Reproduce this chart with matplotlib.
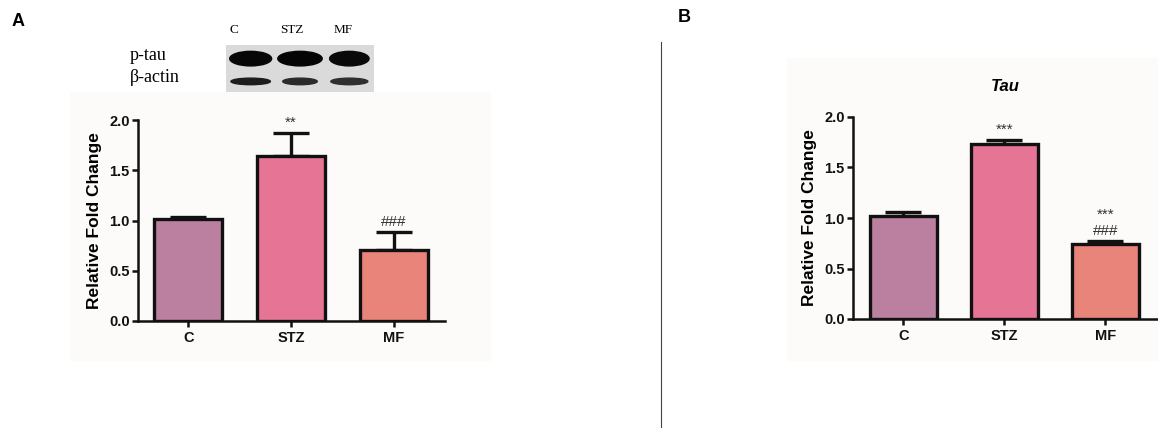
import numpy as np
import matplotlib.pyplot as plt
from matplotlib.patches import Rectangle, Ellipse

# data
groups = ["C", "STZ", "MF"]
colors = ["#bb7fa0", "#e67595", "#e9847a"]

a_mean = [1.01, 1.64, 0.71]
a_err = [0.02, 0.23, 0.18]
a_marks = ["", "**", "###"]

b_mean = [1.02, 1.73, 0.74]
b_err = [0.04, 0.04, 0.03]
b_marks = ["", "***", "***\n###"]

# blot band strength (0..1) and width per lane
ptau_band = [0.95, 1.0, 0.9]
ptau_width = [0.85, 0.9, 0.8]
actin_band = [0.9, 0.75, 0.7]
actin_width = [0.8, 0.7, 0.75]

plt.rcParams['font.family'] = ['Liberation Sans', 'DejaVu Sans']
plt.rcParams['font.weight'] = 'bold'

fig = plt.figure(figsize=(11.58, 4.28), dpi=100)


def bar_panel(ax, means, errs, marks, xlim):
    x = np.arange(len(groups))
    ax.bar(x, means, width=0.66, color=colors, edgecolor='#111111',
           linewidth=2.4, zorder=3)
    ax.errorbar(x, means, yerr=[np.zeros(len(errs)), errs], fmt='none',
                ecolor='#111111', elinewidth=2.4, capsize=13, capthick=2.4,
                zorder=2)
    for xi, m, e, s in zip(x, means, errs, marks):
        if s:
            ax.text(xi, m + e + 0.03, s, ha='center', va='bottom',
                    fontsize=11, fontweight='normal', color='#333333',
                    linespacing=1.25)
    ax.set_ylim(0, 2.0)
    ax.set_xlim(*xlim)
    ax.set_yticks([0.0, 0.5, 1.0, 1.5, 2.0])
    ax.set_yticklabels(["0.0", "0.5", "1.0", "1.5", "2.0"])
    ax.set_xticks(x)
    ax.set_xticklabels(groups)
    for sp in ['top', 'right']:
        ax.spines[sp].set_visible(False)
    for sp in ['left', 'bottom']:
        ax.spines[sp].set_linewidth(1.8)
        ax.spines[sp].set_color('#111111')
    ax.tick_params(axis='both', width=1.8, length=4, labelsize=10.5,
                   colors='#111111', pad=2)
    ax.tick_params(axis='x', length=4, pad=3)
    for lab in ax.get_xticklabels() + ax.get_yticklabels():
        lab.set_fontweight('bold')
    ax.set_ylabel("Relative Fold Change", fontsize=12.5, fontweight='bold',
                  labelpad=5)
    ax.set_facecolor('none')


# faint backgrounds behind both graphs
fig.patches.append(Rectangle((70 / 1158, 1 - 360 / 428), 420 / 1158, 268 / 428,
                             transform=fig.transFigure, color='#fcfbf9',
                             zorder=-5))
fig.patches.append(Rectangle((787 / 1158, 1 - 360 / 428), 371 / 1158, 302 / 428,
                             transform=fig.transFigure, color='#fcfbf9',
                             zorder=-5))

axA = fig.add_axes([138 / 1158, 1 - 321 / 428, 307 / 1158, 201 / 428])
bar_panel(axA, a_mean, a_err, a_marks, (-0.49, 2.5))

axB = fig.add_axes([853 / 1158, 1 - 319 / 428, 305 / 1158, 202 / 428])
bar_panel(axB, b_mean, b_err, b_marks, (-0.5, 2.52))
axB.set_title("Tau", fontsize=12, fontweight='bold', style='italic', pad=19)

# western blot inset
axW = fig.add_axes([226 / 1158, 1 - 92 / 428, 148 / 1158, 47 / 428])
axW.set_xlim(0, 3)
axW.set_ylim(0, 2)
axW.axis('off')
axW.add_patch(Rectangle((0, 0), 3, 2, color='#dadada'))
for i in range(3):
    axW.add_patch(Ellipse((i + 0.5, 1.42), ptau_width[i], 0.62,
                          color=str(0.15 * (1 - ptau_band[i]) + 0.02)))
    axW.add_patch(Ellipse((i + 0.5, 0.45), actin_width[i], 0.28,
                          color=str(0.35 * (1 - actin_band[i]) + 0.08)))

serif = ['Liberation Serif', 'DejaVu Serif']
fig.text(130 / 1158, 1 - 55 / 428, "p-tau", fontsize=13, family=serif,
         fontweight='normal', va='center')
fig.text(130 / 1158, 1 - 77 / 428, "β-actin", fontsize=13, family=serif,
         fontweight='normal', va='center')
for lx, name in zip([234, 292, 343], groups):
    fig.text(lx / 1158, 1 - 30 / 428, name, fontsize=9.5, family=serif,
             fontweight='normal', ha='center', va='center')

# panel letters and divider
fig.text(12 / 1158, 1 - 22 / 428, "A", fontsize=13, fontweight='bold',
         va='center')
fig.text(678 / 1158, 1 - 18 / 428, "B", fontsize=13, fontweight='bold',
         va='center')
fig.add_artist(plt.Line2D([661 / 1158, 661 / 1158], [0, 1 - 42 / 428],
                          transform=fig.transFigure, color='#444444',
                          linewidth=0.8))

fig.savefig("out.png", dpi=100, facecolor='white')
